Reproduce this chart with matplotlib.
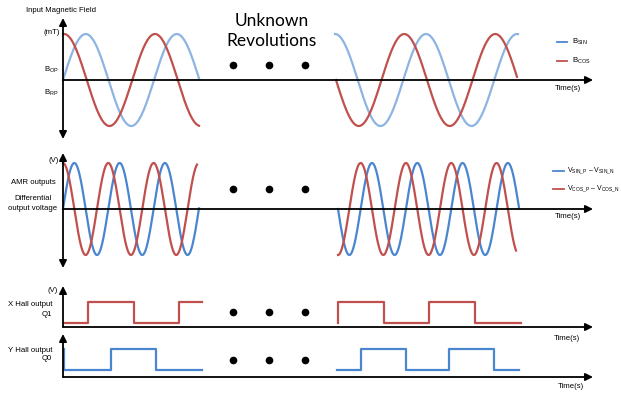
import numpy as np
import matplotlib.pyplot as plt

plt.rcParams['font.family'] = ['Liberation Sans', 'DejaVu Sans']
plt.rcParams['mathtext.fontset'] = 'custom'
plt.rcParams['mathtext.rm'] = 'Liberation Sans'
plt.rcParams['mathtext.it'] = 'Liberation Sans'

# colours
light_blue = '#8db4e2'
blue = '#4a86d0'
red = '#c0504d'

# sine sections: (x start, x end) in pixels, period, phase reference
mag_sections = [(63, 199), (335, 518)]
mag_period = 91
mag_amp = 46
mag_zero = 80

amr_sections = [(63, 199), (338, 519)]
amr_period = 45.3
amr_amp = 46
amr_zero = 209

# hall outputs: step edges and levels
q1_x = [[64, 88, 134, 179, 202], [338, 338, 384, 429, 475, 521]]
q1_lvl = [[0, 1, 0, 1, 1], [0, 1, 0, 1, 0, 0]]
q0_x = [[64, 64, 111, 156, 202], [337, 361, 406, 449, 494, 519]]
q0_lvl = [[1, 0, 1, 0, 0], [0, 1, 0, 1, 0, 0]]
q1_hi, q1_lo, q1_axis = 302, 323, 327
q0_hi, q0_lo, q0_axis = 349, 370, 377

dots_x = [233, 269, 305]
dots_y = [65, 189, 312, 360]

fig = plt.figure(figsize=(6.21, 3.93), dpi=100)
ax = fig.add_axes([0, 0, 1, 1])
ax.set_xlim(0, 621)
ax.set_ylim(393, 0)
ax.axis('off')

lw = 1.6
fs = 5.6


def arrow(x0, y0, x1, y1, style='-|>'):
    ax.annotate('', xy=(x1, y1), xytext=(x0, y0),
                arrowprops=dict(arrowstyle=style, color='black', lw=1.3,
                                mutation_scale=11, shrinkA=0, shrinkB=0))


# axes
arrow(63, 139, 63, 18, '<|-|>')
arrow(63, mag_zero, 593, mag_zero)
arrow(63, 268, 63, 153, '<|-|>')
arrow(63, amr_zero, 593, amr_zero)
arrow(63, q1_axis, 63, 286)
arrow(63, q1_axis, 593, q1_axis)
arrow(63, q0_axis, 63, 334)
arrow(63, q0_axis, 593, q0_axis)

# input magnetic field
x = np.linspace(*mag_sections[0], 300)
ph = 2 * np.pi * (x - 63) / mag_period
ax.plot(x, mag_zero - mag_amp * np.sin(ph), color=light_blue, lw=lw)
ax.plot(x, mag_zero - mag_amp * np.cos(2 * np.pi * (x - 64) / mag_period), color=red, lw=lw)
x = np.linspace(*mag_sections[1], 300)
ax.plot(x, mag_zero - mag_amp * np.cos(2 * np.pi * (x - 335) / mag_period), color=light_blue, lw=lw)
xr = np.linspace(336, 517, 300)
ax.plot(xr, mag_zero + mag_amp * np.sin(2 * np.pi * (xr - 336) / mag_period), color=red, lw=lw)

# AMR outputs
x = np.linspace(*amr_sections[0], 300)
ph = 2 * np.pi * (x - 63) / amr_period
ax.plot(x, amr_zero - amr_amp * np.sin(ph), color=blue, lw=lw)
xr = np.linspace(63, 197, 300)
ax.plot(xr, amr_zero - amr_amp * np.cos(2 * np.pi * (xr - 63) / amr_period), color=red, lw=lw)
x = np.linspace(*amr_sections[1], 300)
ax.plot(x, amr_zero + amr_amp * np.sin(2 * np.pi * (x - 338) / amr_period), color=blue, lw=lw)
xr = np.linspace(338, 516, 300)
ax.plot(xr, amr_zero + amr_amp * np.cos(2 * np.pi * (xr - 338) / amr_period), color=red, lw=lw)

# hall outputs
for xs, lv in zip(q1_x, q1_lvl):
    ys = [q1_hi if v else q1_lo for v in lv]
    ax.plot(xs, ys, drawstyle='steps-post', color=red, lw=lw)
for xs, lv in zip(q0_x, q0_lvl):
    ys = [q0_hi if v else q0_lo for v in lv]
    ax.plot(xs, ys, drawstyle='steps-post', color=blue, lw=lw)

# dots
for yd in dots_y:
    ax.plot(dots_x, [yd] * 3, 'o', color='black', ms=4.5)

# legends
ax.plot([557, 567], [42, 42], color=blue, lw=1.3)
ax.plot([557, 567], [61, 61], color=red, lw=1.3)
ax.text(572, 42, r'B$_{\mathrm{SIN}}$', fontsize=fs, va='center')
ax.text(572, 61, r'B$_{\mathrm{COS}}$', fontsize=fs, va='center')
ax.plot([553, 564], [171, 171], color=blue, lw=1.3)
ax.plot([553, 564], [189, 189], color=red, lw=1.3)
ax.text(567, 171, r'V$_{\mathrm{SIN\_P}}$ – V$_{\mathrm{SIN\_N}}$', fontsize=5.0, va='center')
ax.text(567, 189, r'V$_{\mathrm{COS\_P}}$ – V$_{\mathrm{COS\_N}}$', fontsize=5.0, va='center')

# labels
ax.text(26, 11, 'Input Magnetic Field', fontsize=fs, va='center')
ax.text(60, 33, '(mT)', fontsize=fs, va='center', ha='right')
ax.text(59, 70, r'B$_{\mathrm{OP}}$', fontsize=fs, va='center', ha='right')
ax.text(59, 93, r'B$_{\mathrm{RP}}$', fontsize=fs, va='center', ha='right')
ax.text(59, 161, '(V)', fontsize=fs, va='center', ha='right')
ax.text(33, 182, 'AMR outputs', fontsize=fs, va='center', ha='center')
ax.text(33, 198, 'Differential', fontsize=fs, va='center', ha='center')
ax.text(33, 209, 'output voltage', fontsize=fs, va='center', ha='center')
ax.text(58, 290, '(V)', fontsize=fs, va='center', ha='right')
ax.text(52, 305, 'X Hall output', fontsize=fs, va='center', ha='right')
ax.text(52, 315, 'Q1', fontsize=fs, va='center', ha='right')
ax.text(53, 350, 'Y Hall output', fontsize=fs, va='center', ha='right')
ax.text(52, 359, 'Q0', fontsize=fs, va='center', ha='right')
for tx, ty in [(568, 88), (568, 216), (567, 338), (571, 387)]:
    ax.text(tx, ty, 'Time(s)', fontsize=fs, va='center', ha='center')

ax.text(272, 21, 'Unknown', fontsize=12.5, va='center', ha='center', family='Lato')
ax.text(272, 41, 'Revolutions', fontsize=12.5, va='center', ha='center', family='Lato')

fig.savefig('out.png', dpi=100)
